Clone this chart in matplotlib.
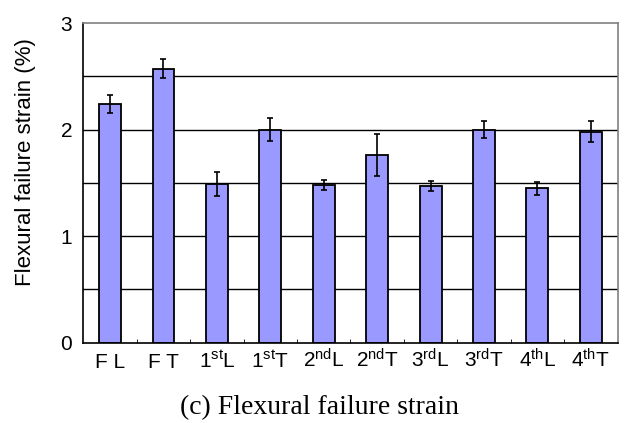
import numpy as np
import matplotlib
matplotlib.use("Agg")
import matplotlib.pyplot as plt

plt.rcParams['font.family'] = ['Liberation Sans', 'DejaVu Sans']
plt.rcParams['mathtext.fontset'] = 'custom'
plt.rcParams['mathtext.rm'] = 'Liberation Sans'
plt.rcParams['mathtext.it'] = 'Liberation Sans'

# data
labels = ['F L', 'F T', r'1$^{\mathrm{st}}$L', r'1$^{\mathrm{st}}$T',
          r'2$^{\mathrm{nd}}$L', r'2$^{\mathrm{nd}}$T', r'3$^{\mathrm{rd}}$L',
          r'3$^{\mathrm{rd}}$T', r'4$^{\mathrm{th}}$L', r'4$^{\mathrm{th}}$T']
strain = [2.24, 2.57, 1.49, 2.00, 1.48, 1.76, 1.47, 2.00, 1.45, 1.98]
err = [0.08, 0.09, 0.11, 0.11, 0.05, 0.20, 0.05, 0.08, 0.06, 0.10]

fig = plt.figure(figsize=(6.36, 4.23), dpi=100)
ax = fig.add_axes([0.131, 0.19, 0.84, 0.7556])

x = np.arange(len(labels))
for g in np.arange(0.5, 3.0, 0.5):
    ax.axhline(g, color='black', lw=1.0, zorder=0)
ax.bar(x, strain, width=0.41, color='#9999FF', edgecolor='black', lw=1.3, zorder=2)
ax.errorbar(x, strain, yerr=err, fmt='none', ecolor='black', elinewidth=1.2,
            capsize=2.2, capthick=1.2, zorder=3)

ax.set_xlim(-0.5, len(labels) - 0.5)
ax.set_ylim(0, 3)
ax.set_yticks([0, 1, 2, 3])
ax.tick_params(axis='y', length=0, labelsize=15, pad=8)
ax.set_xticks(x)
ax.set_xticklabels(labels, fontsize=15)
for lbl in ax.get_xticklabels():
    lbl.set_va('baseline')
ax.tick_params(axis='x', which='major', length=0, pad=18)
ax.set_xticks(np.arange(0.5, len(labels) - 1, 1.0), minor=True)
ax.tick_params(axis='x', which='minor', direction='in', length=3, color='black')

for s in ['left', 'bottom']:
    ax.spines[s].set_color('black')
    ax.spines[s].set_linewidth(1.2)
for s in ['top', 'right']:
    ax.spines[s].set_color('#808080')
    ax.spines[s].set_linewidth(1.2)

ax.set_ylabel('Flexural failure strain (%)', fontsize=16)
ax.yaxis.set_label_coords(-0.088, 0.565)

fig.text(0.502, 0.022, '(c) Flexural failure strain', ha='center', va='baseline',
         fontsize=20, family=['Liberation Serif', 'DejaVu Serif'])

plt.savefig('out.png', dpi=100)
